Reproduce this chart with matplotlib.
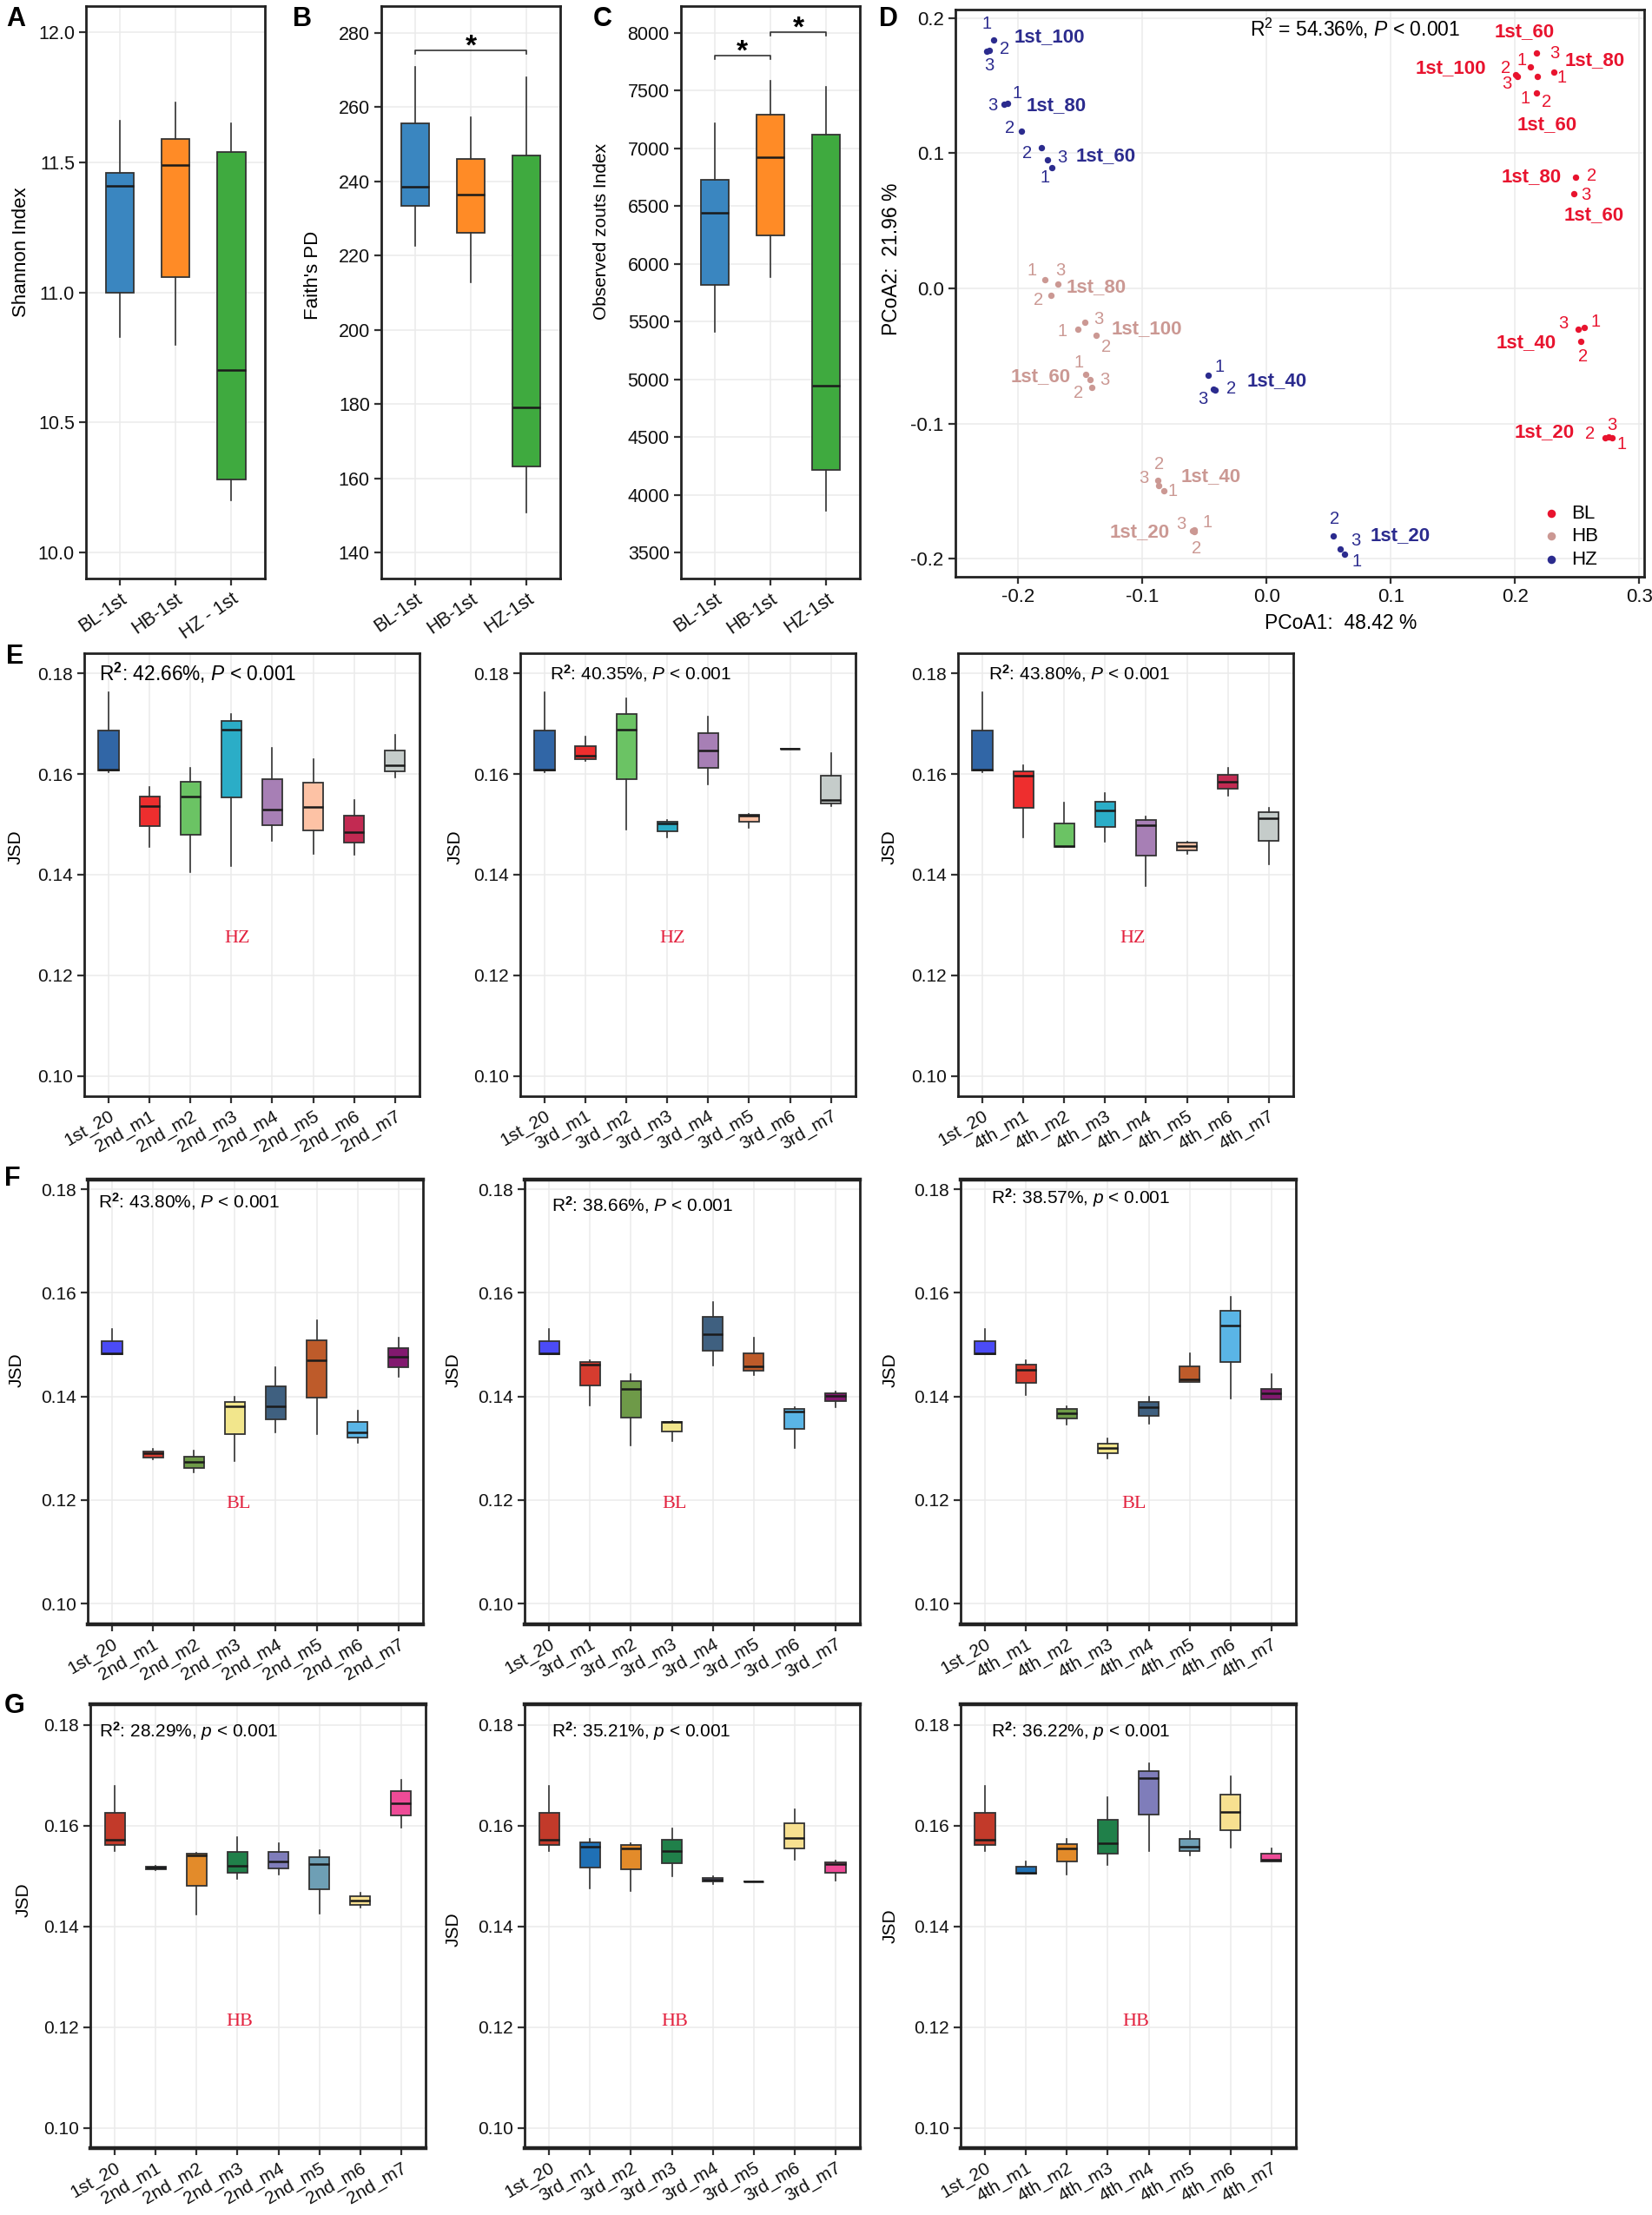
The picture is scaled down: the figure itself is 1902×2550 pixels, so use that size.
import matplotlib
matplotlib.use('Agg')
import matplotlib.pyplot as plt
from matplotlib.ticker import FormatStrFormatter

plt.rcParams['font.family'] = ['Liberation Sans', 'DejaVu Sans']
plt.rcParams['mathtext.fontset'] = 'custom'
plt.rcParams['mathtext.rm'] = 'Liberation Sans'
plt.rcParams['mathtext.it'] = 'Liberation Sans:italic'
plt.rcParams['mathtext.bf'] = 'Liberation Sans:bold'

# ---------------- alpha diversity (A-C) ----------------
# each row: [whisker low, q1, median, q3, whisker high]
alpha_labels_a = ['BL-1st', 'HB-1st', 'HZ - 1st']
alpha_labels = ['BL-1st', 'HB-1st', 'HZ-1st']
alpha_colors = ['#3A86C0', '#FF8B26', '#3FAA3F']
shannon = [[10.83, 11.00, 11.41, 11.46, 11.66],
           [10.80, 11.06, 11.49, 11.59, 11.73],
           [10.20, 10.28, 10.70, 11.54, 11.65]]
faith = [[222.7, 233.4, 238.5, 255.7, 270.8],
         [212.7, 226.2, 236.4, 246.0, 257.2],
         [150.7, 163.3, 179.1, 246.9, 268.1]]
observed = [[5410, 5817, 6442, 6726, 7219],
            [5883, 6246, 6923, 7292, 7582],
            [3863, 4218, 4947, 7119, 7534]]

# ---------------- PCoA (D) ----------------
bl_x = [0.2175, 0.2126, 0.2009, 0.2017, 0.2179, 0.2316, 0.2171, 0.2486, 0.2474,
        0.2510, 0.2559, 0.2530, 0.2728, 0.2753, 0.2780]
bl_y = [0.1739, 0.1639, 0.1578, 0.1568, 0.1568, 0.1600, 0.1443, 0.0820, 0.0702,
        -0.0301, -0.0286, -0.0390, -0.1106, -0.1097, -0.1106]
hb_x = [-0.1787, -0.1677, -0.1738, -0.1516, -0.1463, -0.1374, -0.1455, -0.1420, -0.1410,
        -0.0877, -0.0869, -0.0829, -0.0595, -0.0582, -0.0580]
hb_y = [0.0062, 0.0032, -0.0050, -0.0301, -0.0251, -0.0345, -0.0634, -0.0676, -0.0734,
        -0.1420, -0.1460, -0.1500, -0.1790, -0.1785, -0.1800]
hz_x = [-0.2200, -0.2230, -0.2256, -0.2110, -0.2086, -0.1970, -0.1810, -0.1766, -0.1726,
        -0.0473, -0.0428, -0.0412, 0.0538, 0.0590, 0.0630]
hz_y = [0.1840, 0.1760, 0.1755, 0.1360, 0.1370, 0.1165, 0.1040, 0.0953, 0.0894,
        -0.0640, -0.0743, -0.0752, -0.1830, -0.1930, -0.1968]

# replicate numbers (x, y, text)
bl_reps = [(0.2320, 0.1739, '3'), (0.2057, 0.1686, '1'), (0.1924, 0.1632, '2'),
           (0.1936, 0.1514, '3'), (0.2377, 0.1557, '1'), (0.2082, 0.1403, '1'),
           (0.2256, 0.1379, '2'), (0.2619, 0.0835, '2'), (0.2571, 0.0693, '3'),
           (0.2389, -0.0257, '3'), (0.2652, -0.0248, '1'), (0.2550, -0.0507, '2'),
           (0.2603, -0.1077, '2'), (0.2781, -0.1009, '3'), (0.2862, -0.1156, '1')]
hb_reps = [(-0.1888, 0.0133, '1'), (-0.1657, 0.0133, '3'), (-0.1839, -0.0086, '2'),
           (-0.1645, -0.0316, '1'), (-0.1354, -0.0227, '3'), (-0.1293, -0.0434, '2'),
           (-0.1512, -0.0546, '1'), (-0.1302, -0.0676, '3'), (-0.1516, -0.0773, '2'),
           (-0.0865, -0.1304, '2'), (-0.0986, -0.1407, '3'), (-0.0756, -0.1501, '1'),
           (-0.0687, -0.1746, '3'), (-0.0473, -0.1732, '1'), (-0.0566, -0.1923, '2')]
hz_reps = [(-0.2251, 0.1956, '1'), (-0.2110, 0.1773, '2'), (-0.2231, 0.1646, '3'),
           (-0.2203, 0.1351, '3'), (-0.2009, 0.1440, '1'), (-0.2070, 0.1183, '2'),
           (-0.1928, 0.0997, '2'), (-0.1645, 0.0968, '3'), (-0.1787, 0.0820, '1'),
           (-0.0380, -0.0581, '1'), (-0.0513, -0.0817, '3'), (-0.0283, -0.0743, '2'),
           (0.0550, -0.1708, '2'), (0.0719, -0.1864, '3'), (0.0728, -0.2021, '1')]

# group labels (centre x, y, text)
bl_groups = [(0.2074, 0.1900, '1st_60'), (0.1486, 0.1632, '1st_100'), (0.2646, 0.1686, '1st_80'),
             (0.2262, 0.1214, '1st_60'), (0.2134, 0.0826, '1st_80'), (0.2639, 0.0540, '1st_60'),
             (0.2094, -0.0404, '1st_40'), (0.2235, -0.1062, '1st_20')]
hb_groups = [(-0.1370, 0.0009, '1st_80'), (-0.0966, -0.0301, '1st_100'), (-0.1819, -0.0655, '1st_60'),
             (-0.0444, -0.1392, '1st_40'), (-0.1019, -0.1805, '1st_20')]
hz_groups = [(-0.1750, 0.1861, '1st_100'), (-0.1693, 0.1351, '1st_80'), (-0.1293, 0.0982, '1st_60'),
             (0.0081, -0.0684, '1st_40'), (0.1076, -0.1829, '1st_20')]

pcoa_colors = {'BL': '#E8132E', 'HB': '#CB9893', 'HZ': '#2B2B8E'}

# ---------------- JSD (E-G) ----------------
labels_2nd = ['1st_20'] + ['2nd_m%d' % i for i in range(1, 8)]
labels_3rd = ['1st_20'] + ['3rd_m%d' % i for i in range(1, 8)]
labels_4th = ['1st_20'] + ['4th_m%d' % i for i in range(1, 8)]

hz_colors = ['#3166A6', '#EE2E2E', '#6BC364', '#2BADC7', '#A77FB5', '#FDC2A5', '#C22A52', '#C5CCCA']
bl_colors = ['#4B4BF6', '#D63C2F', '#6E9A48', '#F2E68C', '#3F6080', '#BE5B2A', '#5AB5E6', '#82196F']
hb_colors = ['#C23A2A', '#1F70B5', '#E38B2A', '#20804A', '#7F7DBA', '#6E9FB5', '#F7E090', '#EE4B97']

hz_first = [0.1604, 0.1607, 0.1609, 0.1686, 0.1763]
bl_first = [0.1482, 0.1482, 0.1483, 0.1507, 0.1530]
hb_first = [0.1550, 0.1561, 0.1572, 0.1625, 0.1679]

hz_2nd = [[0.1455, 0.1496, 0.1536, 0.1556, 0.1575],
          [0.1405, 0.1480, 0.1556, 0.1585, 0.1613],
          [0.1417, 0.1553, 0.1688, 0.1705, 0.1720],
          [0.1467, 0.1499, 0.1530, 0.1590, 0.1652],
          [0.1442, 0.1488, 0.1534, 0.1583, 0.1630],
          [0.1439, 0.1463, 0.1485, 0.1518, 0.1549],
          [0.1594, 0.1606, 0.1617, 0.1647, 0.1678]]
hz_3rd = [[0.1626, 0.1630, 0.1637, 0.1656, 0.1675],
          [0.1490, 0.1589, 0.1688, 0.1719, 0.1751],
          [0.1475, 0.1487, 0.1502, 0.1505, 0.1509],
          [0.1579, 0.1613, 0.1647, 0.1681, 0.1714],
          [0.1493, 0.1505, 0.1517, 0.1519, 0.1520],
          [0.1650, 0.1650, 0.1650, 0.1650, 0.1650],
          [0.1537, 0.1542, 0.1548, 0.1596, 0.1642]]
hz_4th = [[0.1474, 0.1533, 0.1596, 0.1606, 0.1617],
          [0.1455, 0.1455, 0.1457, 0.1501, 0.1543],
          [0.1465, 0.1495, 0.1527, 0.1545, 0.1562],
          [0.1378, 0.1438, 0.1499, 0.1508, 0.1516],
          [0.1441, 0.1449, 0.1457, 0.1463, 0.1465],
          [0.1557, 0.1570, 0.1585, 0.1599, 0.1613],
          [0.1420, 0.1467, 0.1513, 0.1524, 0.1532]]
bl_2nd = [[0.1278, 0.1282, 0.1291, 0.1294, 0.1298],
          [0.1253, 0.1262, 0.1273, 0.1284, 0.1295],
          [0.1275, 0.1328, 0.1381, 0.1390, 0.1399],
          [0.1330, 0.1355, 0.1381, 0.1419, 0.1457],
          [0.1328, 0.1398, 0.1470, 0.1509, 0.1547],
          [0.1311, 0.1320, 0.1330, 0.1350, 0.1372],
          [0.1438, 0.1457, 0.1476, 0.1494, 0.1513]]
bl_3rd = [[0.1382, 0.1422, 0.1461, 0.1467, 0.1470],
          [0.1305, 0.1359, 0.1414, 0.1429, 0.1443],
          [0.1313, 0.1332, 0.1350, 0.1350, 0.1352],
          [0.1459, 0.1489, 0.1521, 0.1553, 0.1582],
          [0.1442, 0.1450, 0.1458, 0.1484, 0.1513],
          [0.1301, 0.1337, 0.1371, 0.1376, 0.1380],
          [0.1379, 0.1391, 0.1401, 0.1406, 0.1409]]
bl_4th = [[0.1402, 0.1426, 0.1452, 0.1461, 0.1470],
          [0.1345, 0.1357, 0.1368, 0.1376, 0.1381],
          [0.1281, 0.1291, 0.1300, 0.1308, 0.1319],
          [0.1347, 0.1363, 0.1379, 0.1390, 0.1400],
          [0.1428, 0.1428, 0.1433, 0.1458, 0.1484],
          [0.1396, 0.1467, 0.1537, 0.1565, 0.1592],
          [0.1395, 0.1395, 0.1406, 0.1414, 0.1443]]
hb_2nd = [[0.1511, 0.1514, 0.1516, 0.1518, 0.1520],
          [0.1424, 0.1481, 0.1541, 0.1544, 0.1546],
          [0.1495, 0.1506, 0.1520, 0.1548, 0.1578],
          [0.1503, 0.1515, 0.1529, 0.1548, 0.1565],
          [0.1426, 0.1474, 0.1523, 0.1537, 0.1551],
          [0.1437, 0.1443, 0.1452, 0.1460, 0.1467],
          [0.1597, 0.1620, 0.1645, 0.1668, 0.1691]]
hb_3rd = [[0.1476, 0.1517, 0.1559, 0.1566, 0.1573],
          [0.1471, 0.1513, 0.1555, 0.1561, 0.1565],
          [0.1500, 0.1525, 0.1549, 0.1572, 0.1594],
          [0.1484, 0.1489, 0.1493, 0.1497, 0.1499],
          [0.1489, 0.1489, 0.1489, 0.1489, 0.1489],
          [0.1533, 0.1554, 0.1576, 0.1604, 0.1633],
          [0.1491, 0.1507, 0.1523, 0.1527, 0.1531]]
hb_4th = [[0.1505, 0.1505, 0.1507, 0.1518, 0.1529],
          [0.1503, 0.1529, 0.1555, 0.1564, 0.1573],
          [0.1522, 0.1544, 0.1565, 0.1612, 0.1657],
          [0.1549, 0.1622, 0.1694, 0.1709, 0.1724],
          [0.1541, 0.1549, 0.1559, 0.1574, 0.1589],
          [0.1557, 0.1591, 0.1627, 0.1662, 0.1698],
          [0.1529, 0.1529, 0.1532, 0.1544, 0.1555]]

r2_hz = ['42.66%', '40.35%', '43.80%']
r2_bl = ['43.80%', '38.66%', '38.57%']
r2_hb = ['28.29%', '35.21%', '36.22%']
p_hz = ['P', 'P', 'P']
p_bl = ['P', 'P', 'p']
p_hb = ['p', 'p', 'p']

GRID = '#EBEBEB'
FRAME = '#222222'


def style_axes(ax, frame_lw=2.0):
    for s in ax.spines.values():
        s.set_linewidth(frame_lw)
        s.set_color(FRAME)
    ax.grid(True, color=GRID, linewidth=1.1)
    ax.set_axisbelow(True)
    ax.tick_params(length=6, width=1.6, color='#333333', labelcolor='#111111')


def draw_boxes(ax, rows, colors, width=0.5):
    stats = [dict(whislo=r[0], q1=r[1], med=r[2], q3=r[3], whishi=r[4], fliers=[]) for r in rows]
    pos = list(range(1, len(rows) + 1))
    parts = ax.bxp(stats, positions=pos, widths=width, patch_artist=True,
                   showcaps=False, showfliers=False, manage_ticks=False,
                   boxprops=dict(edgecolor='#333333', linewidth=1.3),
                   medianprops=dict(color='#1A1A1A', linewidth=1.8),
                   whiskerprops=dict(color='#333333', linewidth=1.2))
    for patch, c in zip(parts['boxes'], colors):
        patch.set_facecolor(c)
    ax.set_xlim(0.4, len(rows) + 0.6)
    ax.set_xticks(pos)


def bracket(ax, x0, x1, y, drop, star_off):
    ax.plot([x0, x0, x1, x1], [y - drop, y, y, y - drop], color='#333333', lw=1.2)
    ax.text((x0 + x1) / 2, y - star_off, '*', ha='center', va='baseline',
            fontsize=24, fontweight='bold')


fig = plt.figure(figsize=(19.02, 25.5), dpi=100)

# ---------------- A ----------------
axA = fig.add_axes([0.0521, 0.7388, 0.1083, 0.2584])
draw_boxes(axA, shannon, alpha_colors)
axA.set_ylim(9.9, 12.1)
axA.set_yticks([10.0, 10.5, 11.0, 11.5, 12.0])
axA.yaxis.set_major_formatter(FormatStrFormatter('%.1f'))
axA.set_xticklabels(alpha_labels_a, rotation=35, ha='right', rotation_mode='anchor')
axA.set_ylabel('Shannon Index', fontsize=16)
axA.yaxis.set_label_coords(-0.31, 0.57)

# ---------------- B ----------------
axB = fig.add_axes([0.2308, 0.7388, 0.1083, 0.2584])
draw_boxes(axB, faith, alpha_colors)
axB.set_ylim(133, 287.2)
axB.set_yticks(range(140, 281, 20))
axB.set_xticklabels(alpha_labels, rotation=35, ha='right', rotation_mode='anchor')
axB.set_ylabel("Faith's PD", fontsize=16)
axB.yaxis.set_label_coords(-0.33, 0.53)
bracket(axB, 1, 3, 275.2, 0.8, 0.9)

# ---------------- C ----------------
axC = fig.add_axes([0.4122, 0.7388, 0.1083, 0.2584])
draw_boxes(axC, observed, alpha_colors)
axC.set_ylim(3276, 8231)
axC.set_yticks(range(3500, 8001, 500))
axC.set_xticklabels(alpha_labels, rotation=35, ha='right', rotation_mode='anchor')
axC.set_ylabel('Observed zouts Index', fontsize=15)
axC.yaxis.set_label_coords(-0.40, 0.607)
bracket(axC, 1, 2, 7800, 25, 30)
bracket(axC, 2, 3, 8005, 25, 30)

for ax in (axA, axB, axC):
    style_axes(ax)
    ax.tick_params(labelsize=15.5)

# ---------------- D ----------------
axD = fig.add_axes([0.5783, 0.7398, 0.4169, 0.2557])
style_axes(axD)
axD.tick_params(labelsize=16)
axD.set_xlim(-0.2505, 0.304)
axD.set_ylim(-0.213, 0.206)
axD.set_xticks([-0.2, -0.1, 0.0, 0.1, 0.2, 0.3])
axD.set_yticks([-0.2, -0.1, 0.0, 0.1, 0.2])
axD.xaxis.set_major_formatter(FormatStrFormatter('%.1f'))
axD.yaxis.set_major_formatter(FormatStrFormatter('%.1f'))
for name, xs, ys, reps, groups in (('BL', bl_x, bl_y, bl_reps, bl_groups),
                                   ('HB', hb_x, hb_y, hb_reps, hb_groups),
                                   ('HZ', hz_x, hz_y, hz_reps, hz_groups)):
    col = pcoa_colors[name]
    axD.scatter(xs, ys, s=28, color=col, zorder=3, label=name, linewidths=0)
    for x, y, t in reps:
        axD.text(x, y, t, color=col, fontsize=14.5, ha='center', va='center')
    for x, y, t in groups:
        axD.text(x, y, t, color=col, fontsize=16, fontweight='bold', ha='center', va='center')
axD.text(0.071, 0.192, r'R$^2$ = 54.36%, $\mathit{P}$ < 0.001', fontsize=16.5,
         ha='center', va='center')
axD.set_xlabel('PCoA1:  48.42 %', fontsize=16.5)
axD.set_ylabel('PCoA2:  21.96 %', fontsize=16.5)
axD.xaxis.set_label_coords(0.56, -0.065)
axD.yaxis.set_label_coords(-0.078, 0.56)
axD.legend(loc='lower right', bbox_to_anchor=(0.945, 0.0), frameon=False, fontsize=16,
           handletextpad=0.05, labelspacing=0.25, borderaxespad=0.2, markerscale=1.3,
           borderpad=0.2)

# ---------------- E-G ----------------
row_specs = [
    ('E', 0.5051, 0.2000, (0.096, 0.184), [0.0510, 0.3149, 0.5799], hz_first, hz_colors,
     [hz_2nd, hz_3rd, hz_4th], r2_hz, p_hz, 'HZ', 0.1273, [4.15, 4.12, 4.68],
     [(0.044, 0.955), (0.087, 0.955), (0.091, 0.955)], [16.4, 15, 15],
     [(-0.18, 0.563), (-0.17, 0.563), (-0.18, 0.563)]),
    ('F', 0.2667, 0.2008, (0.096, 0.1819), [0.0531, 0.3176, 0.5815], bl_first, bl_colors,
     [bl_2nd, bl_3rd, bl_4th], r2_bl, p_bl, 'BL', 0.1193, [4.08, 4.06, 4.65],
     [(0.032, 0.951), (0.08, 0.943), (0.09, 0.958)], [15, 15, 15],
     [(-0.187, 0.572), (-0.187, 0.572), (-0.184, 0.572)]),
    ('G', 0.0302, 0.2004, (0.096, 0.1841), [0.0547, 0.3176, 0.5815], hb_first, hb_colors,
     [hb_2nd, hb_3rd, hb_4th], r2_hb, p_hb, 'HB', 0.1211, [4.04, 4.06, 4.69],
     [(0.025, 0.94), (0.08, 0.94), (0.09, 0.94)], [15, 15, 15],
     [(-0.174, 0.56), (-0.187, 0.493), (-0.184, 0.50)]),
]
tick_sets = [labels_2nd, labels_3rd, labels_4th]

for (letter, bottom, height, ylim, lefts, first, colors, sets, r2s, ps, site, site_y,
     site_x, r2_pos, r2_fs, jsd_pos) in row_specs:
    for i in range(3):
        ax = fig.add_axes([lefts[i], bottom, 0.2029, height])
        draw_boxes(ax, [first] + sets[i], colors)
        style_axes(ax)
        ax.set_ylim(*ylim)
        ax.set_yticks([0.10, 0.12, 0.14, 0.16, 0.18])
        ax.yaxis.set_major_formatter(FormatStrFormatter('%.2f'))
        ax.set_xticklabels(tick_sets[i], rotation=30, ha='right', rotation_mode='anchor')
        ax.tick_params(labelsize=15)
        ax.set_ylabel('JSD', fontsize=15)
        ax.yaxis.set_label_coords(*jsd_pos[i])
        ax.text(r2_pos[i][0], r2_pos[i][1],
                r'R$^{\mathbf{2}}$: ' + r2s[i] + r', $\mathit{' + ps[i] + r'}$ < 0.001',
                transform=ax.transAxes, fontsize=r2_fs[i], ha='left', va='center')
        ax.text(site_x[i], site_y, site, color='#E3223F', fontsize=16,
                family=['Liberation Serif', 'DejaVu Serif'], ha='center', va='center')
        if letter in ('F', 'G'):
            ax.spines['top'].set_linewidth(3.2)
            ax.spines['bottom'].set_linewidth(3.2)

# panel letters
for t, x, y in (('A', 0.0095, 0.9914), ('B', 0.183, 0.9914), ('C', 0.365, 0.9914),
                ('D', 0.538, 0.9914), ('E', 0.0089, 0.7035), ('F', 0.0074, 0.4678),
                ('G', 0.009, 0.2298)):
    fig.text(x, y, t, fontsize=22, fontweight='bold', ha='center', va='center')

fig.savefig('out.png', dpi=100)
